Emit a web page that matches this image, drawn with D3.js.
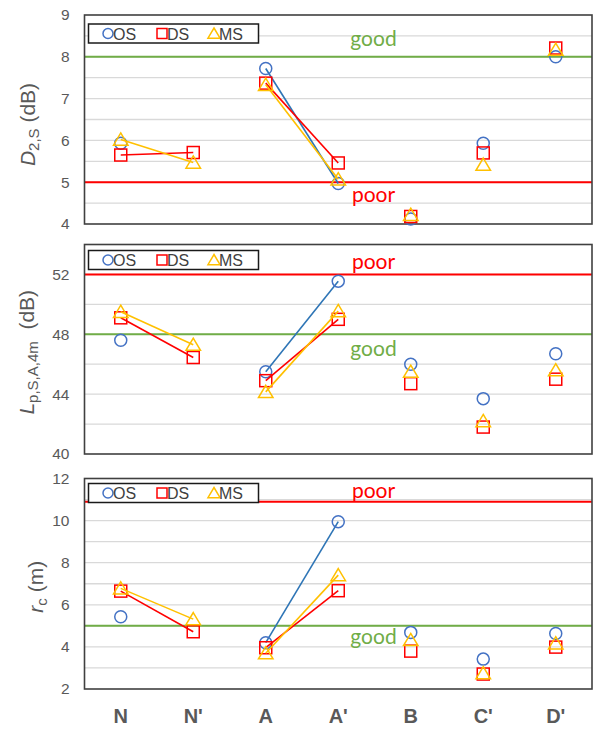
<!DOCTYPE html>
<html><head><meta charset="utf-8">
<script src="https://cdn.jsdelivr.net/npm/d3@7"></script>
<style>body{margin:0;background:#fff} svg{display:block}</style>
</head><body>
<svg id="c" width="600" height="729"></svg>
<script>
// ---------- data ----------
const categories = ["N", "N'", "A", "A'", "B", "C'", "D'"];
const seriesNames = ["OS", "DS", "MS"];
const linkedPairs = [["N", "N'"], ["A", "A'"]];

const d2sOS = [5.93, null, 7.72, 4.97, 4.12, 5.93, 8.00];
const d2sDS = [5.65, 5.71, 7.37, 5.46, 4.18, 5.70, 8.21];
const d2sMS = [6.02, 5.47, 7.33, 5.07, 4.22, 5.42, 8.17];
const d2sTicks = [4, 5, 6, 7, 8, 9];
const d2sGood = 8, d2sPoor = 5;

const lpOS = [47.6, null, 45.5, 51.55, 46.0, 43.7, 46.7];
const lpDS = [49.1, 46.45, 44.9, 49.0, 44.7, 41.8, 45.0];
const lpMS = [49.5, 47.3, 44.15, 49.55, 45.5, 42.2, 45.6];
const lpTicks = [40, 44, 48, 52];
const lpGood = 48, lpPoor = 52;

const rcOS = [5.43, null, 4.2, 9.95, 4.69, 3.42, 4.64];
const rcDS = [6.65, 4.72, 3.96, 6.67, 3.8, 2.71, 3.99];
const rcMS = [6.78, 5.32, 3.7, 7.41, 4.33, 2.75, 4.17];
const rcTicks = [2, 4, 6, 8, 10, 12];
const rcGood = 5, rcPoor = 10.9;

// ---------- styling ----------
const markerStroke = {OS: "#4472C4", DS: "#FF0000", MS: "#FFC000"};
const lineStroke = {OS: "#2E75B6", DS: "#FF0000", MS: "#FFC000"};
const GREEN = "#70AD47", RED = "#FF0000", GREY = "#595959";

const svg = d3.select("#c");
const x = d3.scalePoint().domain(categories).range([84.5, 592]).padding(0.5);

const panels = [
  {top: 15, bottom: 224, domain: [4, 9], ticks: d2sTicks, gridStep: 0.5,
   data: [d2sOS, d2sDS, d2sMS],
   refs: [{v: d2sGood, c: GREEN, t: "good", dy: -10.5}, {v: d2sPoor, c: RED, t: "poor", dy: 20}],
   legendY: 9, title: "d2s", titleX: 35},
  {top: 244.5, bottom: 454, domain: [40, 54], ticks: lpTicks, gridStep: 2,
   data: [lpOS, lpDS, lpMS],
   refs: [{v: lpPoor, c: RED, t: "poor", dy: -5}, {v: lpGood, c: GREEN, t: "good", dy: 22}],
   legendY: 6, title: "lp", titleX: 34},
  {top: 478.5, bottom: 689, domain: [2, 12], ticks: rcTicks, gridStep: 1,
   data: [rcOS, rcDS, rcMS],
   refs: [{v: rcPoor, c: RED, t: "poor", dy: -4}, {v: rcGood, c: GREEN, t: "good", dy: 18.5}],
   legendY: 5, title: "rc", titleX: 43}
];

function marker(g, name, cx, cy, s) {
  const col = markerStroke[name];
  if (name === "OS") {
    g.append("circle").attr("cx", cx).attr("cy", cy).attr("r", s * 0.5)
      .attr("fill", "none").attr("stroke", col).attr("stroke-width", 1.5);
  } else if (name === "DS") {
    g.append("rect").attr("x", cx - s / 2).attr("y", cy - s / 2).attr("width", s).attr("height", s)
      .attr("fill", "none").attr("stroke", col).attr("stroke-width", 1.5);
  } else {
    const h = s * 0.55;
    g.append("path").attr("d", `M${cx},${cy - h} L${cx + h * 1.1},${cy + h * 0.85} L${cx - h * 1.1},${cy + h * 0.85} Z`)
      .attr("fill", "none").attr("stroke", col).attr("stroke-width", 1.5);
  }
}

const [x0, x1] = [84.5, 592];

panels.forEach(p => {
  const y = d3.scaleLinear().domain(p.domain).range([p.bottom, p.top]);
  const g = svg.append("g");

  // gridlines
  const grid = d3.range(p.domain[0] + p.gridStep, p.domain[1] - 1e-9, p.gridStep);
  g.selectAll("line.grid").data(grid).join("line")
    .attr("x1", x0).attr("x2", x1).attr("y1", d => y(d)).attr("y2", d => y(d))
    .attr("stroke", "#D9D9D9").attr("stroke-width", 1.3);

  // y axis tick labels
  const ax = d3.axisLeft(y).tickValues(p.ticks).tickFormat(d3.format("d")).tickSize(0).tickPadding(15);
  const axG = g.append("g").attr("transform", `translate(${x0},0)`).call(ax);
  axG.select(".domain").remove();
  axG.selectAll("text").attr("font-family", "Liberation Sans, Arial, sans-serif")
    .attr("font-size", 15.5).attr("fill", GREY);

  // reference lines
  p.refs.forEach(r => {
    g.append("line").attr("x1", x0).attr("x2", x1).attr("y1", y(r.v)).attr("y2", y(r.v))
      .attr("stroke", r.c).attr("stroke-width", 2);
    g.append("text").attr("x", (x("A'") + x("B")) / 2 - 1).attr("y", y(r.v) + r.dy)
      .attr("text-anchor", "middle").attr("font-family", "Lato, Open Sans, sans-serif")
      .attr("font-size", 21).attr("fill", r.c).text(r.t);
  });

  // frame
  g.append("rect").attr("x", x0).attr("y", p.top).attr("width", x1 - x0).attr("height", p.bottom - p.top)
    .attr("fill", "none").attr("stroke", "#404040").attr("stroke-width", 1.6);

  // series
  seriesNames.forEach((name, si) => {
    const vals = p.data[si];
    const pts = categories.map((c, i) => ({c, v: vals[i]}));
    const line = d3.line().x(d => x(d.c)).y(d => y(d.v));
    linkedPairs.forEach(pair => {
      const seg = pts.filter(d => pair.includes(d.c));
      if (seg.every(d => d.v !== null)) {
        g.append("path").attr("d", line(seg)).attr("fill", "none")
          .attr("stroke", lineStroke[name]).attr("stroke-width", 1.6);
      }
    });
    pts.filter(d => d.v !== null).forEach(d => marker(g, name, x(d.c), y(d.v), 12));
  });

  // legend
  const ly = p.top + p.legendY;
  const lg = g.append("g");
  lg.append("rect").attr("x", 88.5).attr("y", ly).attr("width", 170).attr("height", 19)
    .attr("fill", "#fff").attr("stroke", "#1a1a1a").attr("stroke-width", 1.5);
  const lx = [108, 162, 214];
  seriesNames.forEach((name, i) => {
    marker(lg, name, lx[i], ly + 9.5, 10);
    lg.append("text").attr("x", lx[i] + 5).attr("y", ly + 15.5)
      .attr("font-family", "Liberation Sans, Arial, sans-serif").attr("font-size", 16)
      .attr("fill", "#404040").text(name);
  });

  // y title
  const cy = (p.top + p.bottom) / 2 + (p.title === "d2s" ? 5 : 3);
  const t = g.append("text").attr("transform", `translate(${p.titleX},${cy}) rotate(-90)`)
    .attr("text-anchor", "middle").attr("font-family", "Liberation Sans, Arial, sans-serif")
    .attr("font-size", 21).attr("fill", GREY);
  if (p.title === "d2s") {
    t.append("tspan").attr("font-style", "italic").text("D");
    t.append("tspan").attr("font-size", 15).attr("dy", 4).text("2,S");
    t.append("tspan").attr("dy", -4).text(" (dB)");
  } else if (p.title === "lp") {
    t.append("tspan").attr("font-style", "italic").text("L");
    t.append("tspan").attr("font-size", 15).attr("dy", 4).text("p,S,A,4m");
    t.append("tspan").attr("dy", -4).text("\u00A0 (dB)");
  } else {
    t.append("tspan").attr("font-style", "italic").text("r");
    t.append("tspan").attr("font-size", 15).attr("dy", 4).text("c");
    t.append("tspan").attr("dy", -4).text(" (m)");
  }
});

// x category labels
svg.append("g").selectAll("text").data(categories).join("text")
  .attr("x", d => x(d)).attr("y", 723).attr("text-anchor", "middle")
  .attr("font-family", "Liberation Sans Narrow, Liberation Sans, Arial, sans-serif").attr("font-weight", "bold")
  .attr("font-size", 20).attr("fill", GREY).text(d => d);
</script>
</body></html>
